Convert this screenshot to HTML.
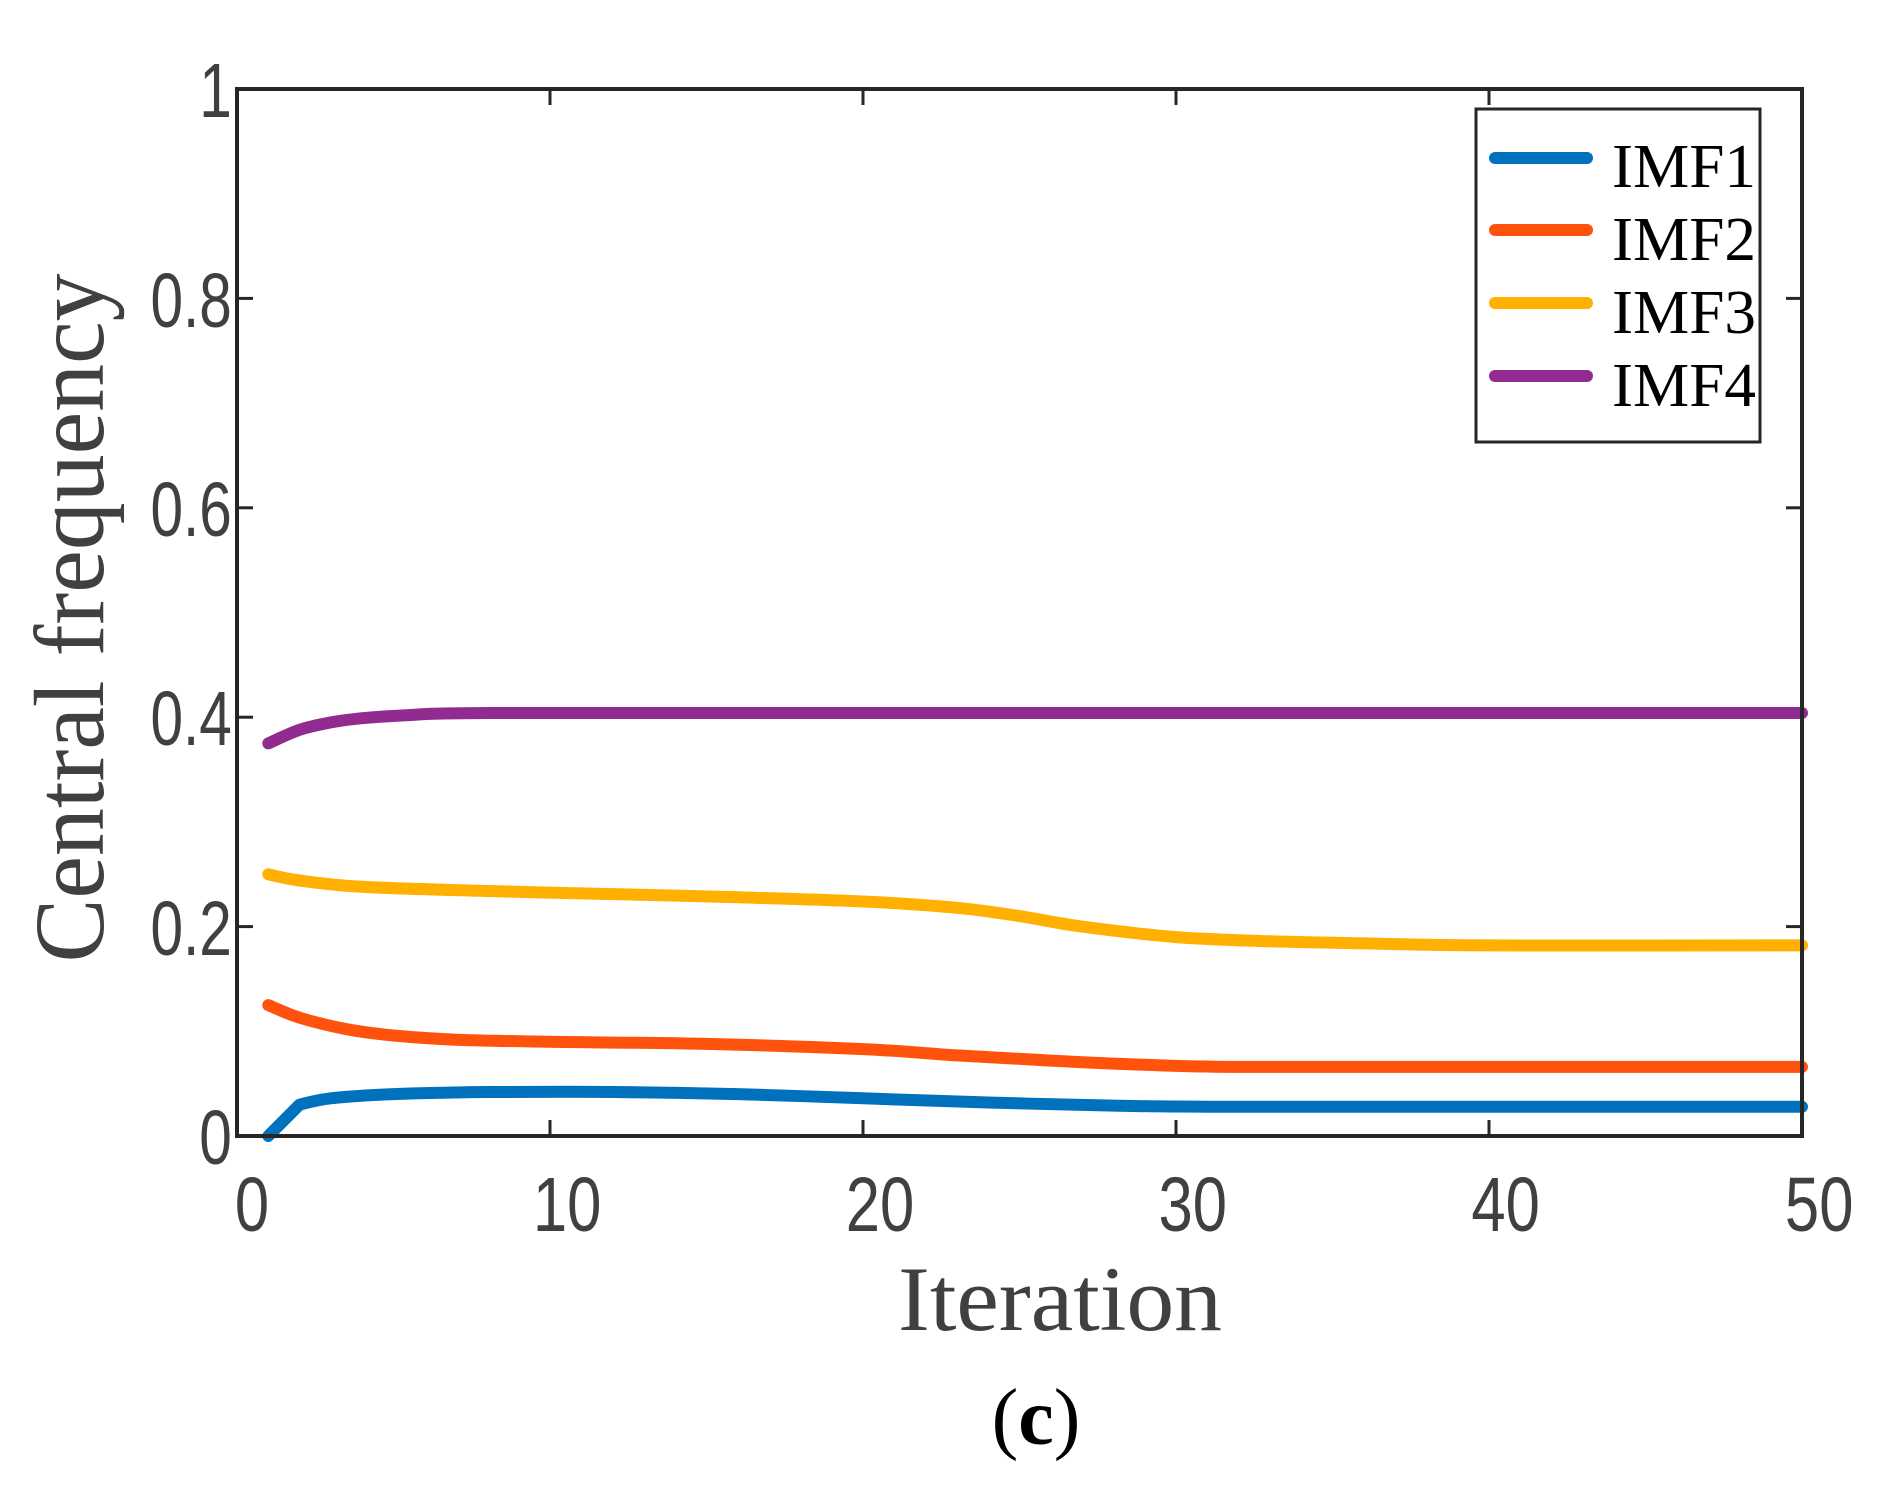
<!DOCTYPE html>
<html><head><meta charset="utf-8"><style>html,body{margin:0;padding:0;background:#fff}svg{display:block}</style></head>
<body>
<svg id="s" width="1900" height="1503" xmlns="http://www.w3.org/2000/svg">
<rect width="1900" height="1503" fill="#fff"/>
<g id="ticks" stroke="#262626" stroke-width="3"></g>
<g id="series" fill="none" stroke-width="12" stroke-linecap="round" stroke-linejoin="round"></g>
<rect x="237" y="89" width="1565" height="1047" fill="none" stroke="#262626" stroke-width="4"/>
<g transform="scale(0.76,1)" font-family="Liberation Sans, sans-serif" font-size="77" fill="#404040" text-anchor="end">
<text x="305" y="1164">0</text><text x="305" y="955">0.2</text><text x="305" y="745">0.4</text>
<text x="305" y="536">0.6</text><text x="305" y="327">0.8</text><text x="305" y="117">1</text>
</g>
<g transform="scale(0.8,1)" font-family="Liberation Sans, sans-serif" font-size="77" fill="#404040" text-anchor="middle">
<text x="315" y="1231">0</text><text x="709" y="1231">10</text><text x="1100" y="1231">20</text>
<text x="1491" y="1231">30</text><text x="1882" y="1231">40</text><text x="2274" y="1231">50</text>
</g>
<text x="1060" y="1330" font-family="Liberation Serif, serif" font-size="92" fill="#404040" text-anchor="middle" textLength="324" lengthAdjust="spacingAndGlyphs">Iteration</text>
<text transform="translate(103,618) rotate(-90)" font-family="Liberation Serif, serif" font-size="100" fill="#404040" text-anchor="middle" textLength="689" lengthAdjust="spacingAndGlyphs">Central frequency</text>
<text x="1036" y="1444" font-family="Liberation Serif, serif" font-size="80" fill="#000" text-anchor="middle">(<tspan font-weight="bold">c</tspan>)</text>
<rect x="1476" y="109" width="284" height="333" fill="#fff" stroke="#262626" stroke-width="3"/>
<g stroke-width="12" stroke-linecap="round">
<line x1="1495" y1="158" x2="1587" y2="158" stroke="#0072BD"/>
<line x1="1495" y1="230" x2="1587" y2="230" stroke="#FF530D"/>
<line x1="1495" y1="303" x2="1587" y2="303" stroke="#FFB000"/>
<line x1="1495" y1="376" x2="1587" y2="376" stroke="#922B90"/>
</g>
<g font-family="Liberation Serif, serif" font-size="62" fill="#000">
<text x="1612" y="187" textLength="144" lengthAdjust="spacingAndGlyphs">IMF1</text><text x="1612" y="260" textLength="144" lengthAdjust="spacingAndGlyphs">IMF2</text>
<text x="1612" y="333" textLength="144" lengthAdjust="spacingAndGlyphs">IMF3</text><text x="1612" y="406" textLength="144" lengthAdjust="spacingAndGlyphs">IMF4</text>
</g>
</svg>
<script>
(function(){
var X=function(i){return 237+i*31.3},Y=function(v){return 1136-v*1047};
var t=document.getElementById("ticks"),s="";
for(var k=1;k<5;k++){var x=X(k*10);s+='<line x1="'+x+'" y1="1136" x2="'+x+'" y2="1120"/><line x1="'+x+'" y1="89" x2="'+x+'" y2="105"/>';}
for(var k=1;k<5;k++){var y=Y(k*0.2);s+='<line x1="237" y1="'+y+'" x2="253" y2="'+y+'"/><line x1="1802" y1="'+y+'" x2="1786" y2="'+y+'"/>';}
t.innerHTML=s;
var D=[
["#0072BD",[[1,0],[2,0.03],[3,0.036],[5,0.04],[8,0.042],[12,0.042],[16,0.04],[20,0.036],[24,0.032],[28,0.029],[31,0.028],[40,0.028],[50,0.028]],1],
["#FF530D",[[1,0.125],[2,0.113],[3.5,0.102],[5,0.096],[7,0.092],[10,0.09],[15,0.088],[20,0.083],[23,0.077],[26,0.072],[29,0.068],[32,0.066],[40,0.066],[50,0.066]]],
["#FFB000",[[1,0.25],[2,0.244],[4,0.238],[8,0.234],[12,0.231],[16,0.228],[20,0.224],[23,0.218],[25,0.21],[27,0.2],[30,0.19],[33,0.186],[36,0.184],[40,0.182],[50,0.182]]],
["#922B90",[[1,0.375],[2,0.388],[3,0.395],[4,0.399],[5.5,0.402],[8,0.404],[20,0.404],[50,0.404]]]];
var g=document.getElementById("series"),h="";
D.forEach(function(d){
  var P=d[1].map(function(q){return [X(q[0]),Y(q[1])]});
  var path="M"+P[0][0].toFixed(1)+","+P[0][1].toFixed(1);
  for(var i=0;i<P.length-1;i++){
    var p0=P[i-1]||P[i],p1=P[i],p2=P[i+1],p3=P[i+2]||P[i+1];
    if(d[2]&&i==0){path+=" L"+p2[0].toFixed(1)+","+p2[1].toFixed(1);continue;}
    if(d[2]&&i==1)p0=p1;
    var c1=[p1[0]+(p2[0]-p0[0])/6,p1[1]+(p2[1]-p0[1])/6],c2=[p2[0]-(p3[0]-p1[0])/6,p2[1]-(p3[1]-p1[1])/6];
    path+=" C"+c1[0].toFixed(1)+","+c1[1].toFixed(1)+" "+c2[0].toFixed(1)+","+c2[1].toFixed(1)+" "+p2[0].toFixed(1)+","+p2[1].toFixed(1);
  }
  h+='<path stroke="'+d[0]+'" d="'+path+'"/>';});
g.innerHTML=h;
})();
</script>
</body></html>
